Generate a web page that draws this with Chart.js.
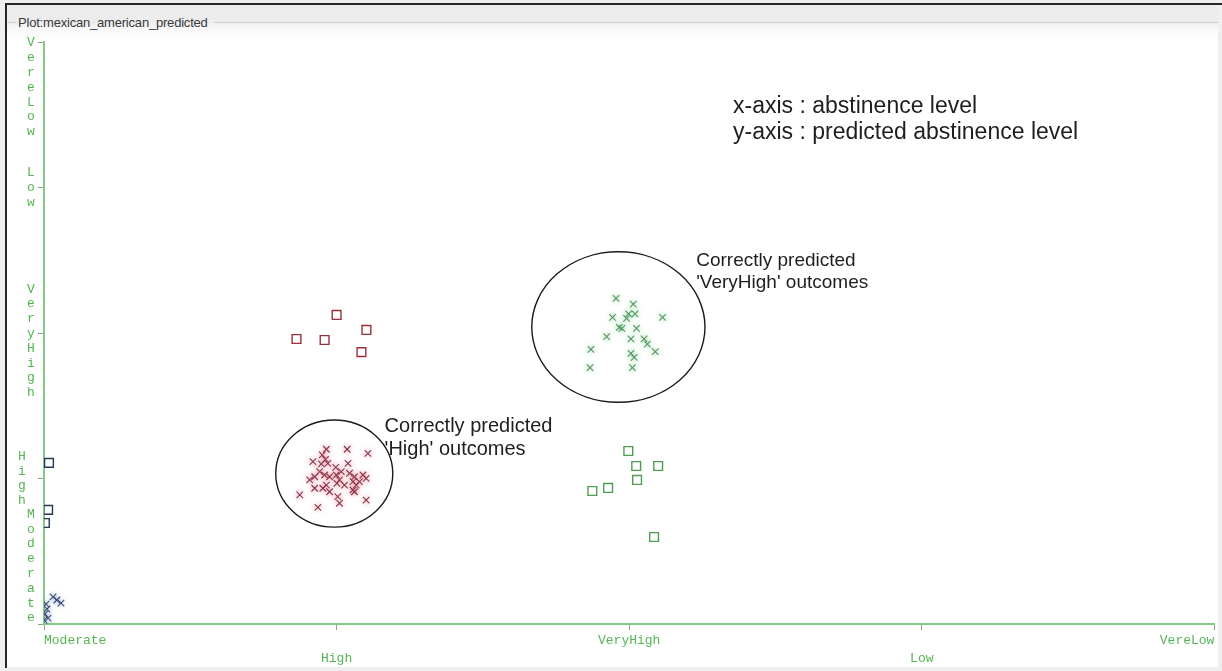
<!DOCTYPE html>
<html>
<head>
<meta charset="utf-8">
<script src="https://cdn.jsdelivr.net/npm/chart.js@4.4.1/dist/chart.umd.min.js"></script>
<style>
  html, body { margin: 0; padding: 0; width: 1222px; height: 671px; overflow: hidden; background: #efefef; }
  #sheet { position: absolute; left: 7px; top: 5px; width: 1211px; height: 662px; background: #fff; }
  #band { position: absolute; left: 7px; top: 5px; width: 1211px; height: 34px;
          background: linear-gradient(#ececec 0px, #ececec 17px, #f6f6f6 22px, #fff 34px); }
  #edgeTop { position: absolute; left: 5px; top: 3px; width: 1217px; height: 2px; background: #262626; }
  #edgeLeft { position: absolute; left: 5px; top: 3px; width: 2px; height: 665px; background: #262626; }
  .rule { position: absolute; top: 22px; height: 1px; background: #cfcfcf; }
  #title { position: absolute; left: 18px; top: 15px; font: 13px "Liberation Sans", Arial, sans-serif;
           color: #3a3a3a; white-space: nowrap; letter-spacing: -0.2px; }
  canvas { position: absolute; left: 0; top: 0; }
</style>
</head>
<body>
<div id="sheet"></div>
<div id="band"></div>
<div id="edgeTop"></div>
<div id="edgeLeft"></div>
<div class="rule" style="left:8px;width:8px"></div>
<div class="rule" style="left:214px;width:1004px"></div>
<div id="title">Plot:mexican_american_predicted</div>
<canvas id="plot" width="1222" height="671"></canvas>
<script>
// Abstinence levels, in axis order (x: actual level, y: predicted level)
const categories = ['Moderate', 'High', 'VeryHigh', 'Low', 'VereLow'];

// Moderate cases (jittered around their category index)
const moderateHitX  = [0.031, 0.044, 0.058, 0.007, 0.010, 0.003, 0.014, 0.000];
const moderateHitY  = [0.186, 0.165, 0.144, 0.137, 0.103, 0.069, 0.041, 0.027];
const moderateMissX = [0.017, 0.014, 0.003];
const moderateMissY = [1.107, 0.784, 0.694];

// High cases
const highHitX = [0.965, 1.036, 1.107, 0.951, 0.919, 0.962, 0.948, 0.970, 1.039, 0.997,
                  1.016, 0.942, 0.925, 0.908, 0.959, 0.976, 0.999, 1.010, 1.001, 1.044,
                  1.061, 1.090, 1.101, 1.056, 1.067, 1.056, 0.965, 0.925, 0.953, 0.976,
                  1.004, 0.874, 1.010, 0.936, 1.101, 1.061, 1.027, 1.078];
const highHitY = [1.201, 1.201, 1.173, 1.162, 1.116, 1.132, 1.100, 1.104, 1.104, 1.077,
                  1.047, 1.047, 1.012, 0.990, 1.024, 1.012, 1.024, 0.990, 0.967, 1.036,
                  1.012, 1.024, 1.001, 0.978, 0.955, 0.921, 0.955, 0.933, 0.933, 0.909,
                  0.875, 0.887, 0.830, 0.802, 0.852, 0.909, 0.955, 0.978];
const highMissX = [0.863, 0.959, 1.000, 1.102, 1.085];
const highMissY = [1.959, 1.952, 2.124, 2.021, 1.869];

// VeryHigh cases
const veryHighHitX = [1.955, 2.014, 1.943, 1.991, 2.020, 2.114, 1.975, 2.025, 1.923, 2.006,
                      2.051, 2.062, 2.089, 1.869, 2.006, 2.017, 1.866, 2.011, 1.966, 1.998];
const veryHighHitY = [2.238, 2.199, 2.108, 2.101, 2.131, 2.108, 2.032, 2.032, 1.975, 1.959,
                      1.959, 1.924, 1.872, 1.888, 1.860, 1.833, 1.762, 1.762, 2.039, 2.131];
const veryHighMissX = [1.997, 2.024, 2.099, 2.027, 1.874, 1.928, 2.085];
const veryHighMissY = [1.189, 1.086, 1.086, 0.990, 0.914, 0.935, 0.598];

const toPoints = (xs, ys) => xs.map((x, i) => ({ x, y: ys[i] }));

function hits(xs, ys, color, halo) {
  return { data: toPoints(xs, ys), pointStyle: 'crossRot', pointRadius: 4.6, pointBorderWidth: 1.1,
           borderColor: color, backgroundColor: color, showLine: false, halo };
}
function misses(xs, ys, color) {
  return { data: toPoints(xs, ys), pointStyle: 'rect', pointRadius: 6.2, pointBorderWidth: 1.4,
           borderColor: color, backgroundColor: 'rgba(0,0,0,0)', showLine: false, halo: null };
}

// soft coloured glow behind the crosses
const haloPlugin = {
  id: 'halo',
  beforeDatasetDraw(chart, args) {
    const ds = chart.data.datasets[args.index];
    chart.ctx.save();
    if (ds.halo) { chart.ctx.shadowColor = ds.halo; chart.ctx.shadowBlur = 5; }
  },
  afterDatasetDraw(chart) { chart.ctx.restore(); }
};

// category names: staggered along x, one letter per line along y
const axisLabelPlugin = {
  id: 'axisLabels',
  afterDraw(chart, args, o) {
    const { ctx, chartArea, scales: { x, y } } = chart;
    ctx.save();
    ctx.font = o.font;
    ctx.fillStyle = o.color;
    ctx.textBaseline = 'middle';
    const last = categories.length - 1;
    categories.forEach((name, i) => {
      const px = x.getPixelForValue(i);
      ctx.textAlign = i === 0 ? 'left' : (i === last ? 'right' : 'center');
      ctx.fillText(name, px, chartArea.bottom + o.xRows[i % 2]);

      const letters = name.split('');
      const n = letters.length;
      let start = y.getPixelForValue(i) - (n - 1) / 2 * o.letterGap + (o.yShift[name] || 0);
      start = Math.max(start, chartArea.top + 1);
      start = Math.min(start, chartArea.bottom - o.bottomGap - (n - 1) * o.letterGap);
      ctx.textAlign = 'center';
      const cx = o.column + (o.columnShift[name] || 0);
      letters.forEach((ch, k) => ctx.fillText(ch, cx, start + k * o.letterGap));
    });
    ctx.restore();
  }
};

// rings around the correctly predicted clusters, plus the notes
const notesPlugin = {
  id: 'notes',
  afterDraw(chart, args, o) {
    const { ctx, chartArea, scales: { x, y } } = chart;
    ctx.save();
    ctx.strokeStyle = '#1a1a1a';
    ctx.lineWidth = 1.4;
    o.rings.forEach(r => {
      const cx = x.getPixelForValue(r.x), cy = y.getPixelForValue(r.y);
      const rx = Math.abs(x.getPixelForValue(r.x + r.rx) - cx);
      const ry = Math.abs(y.getPixelForValue(r.y + r.ry) - cy);
      ctx.beginPath();
      ctx.ellipse(cx, cy, rx, ry, 0, 0, Math.PI * 2);
      ctx.stroke();
    });
    ctx.fillStyle = '#1e1e1e';
    ctx.textAlign = 'left';
    ctx.textBaseline = 'middle';
    o.notes.forEach(nt => {
      const px = x.getPixelForValue(nt.x), py = y.getPixelForValue(nt.y);
      ctx.font = nt.font;
      nt.lines.forEach((line, k) => ctx.fillText(line, px, py + k * nt.lead));
    });
    ctx.font = o.keyFont;
    o.key.forEach((line, k) => ctx.fillText(line, chartArea.left + o.keyX, chartArea.top + o.keyY + k * o.keyLead));
    ctx.restore();
  }
};

new Chart(document.getElementById('plot'), {
  type: 'scatter',
  data: {
    datasets: [
      hits(moderateHitX, moderateHitY, '#3d4d70', 'rgba(90,120,200,0.6)'),
      misses(moderateMissX, moderateMissY, '#27355a'),
      hits(highHitX, highHitY, '#8a3848', 'rgba(225,95,125,0.8)'),
      misses(highMissX, highMissY, '#98303a'),
      hits(veryHighHitX, veryHighHitY, '#5d8f68', 'rgba(90,215,110,0.85)'),
      misses(veryHighMissX, veryHighMissY, '#4d9d52')
    ]
  },
  options: {
    responsive: false,
    animation: false,
    events: [],
    layout: { padding: { left: 0, right: 6, top: 42, bottom: 0 } },
    plugins: {
      legend: { display: false },
      tooltip: { enabled: false },
      axisLabels: {
        font: '13px "Liberation Mono", "DejaVu Sans Mono", monospace',
        color: '#55b455',
        xRows: [17, 35],
        letterGap: 14.8,
        bottomGap: 6,
        column: 31,
        yShift: { VeryHigh: 8 },
        columnShift: { High: -9 }
      },
      notes: {
        rings: [
          { x: 0.992, y: 1.034, rx: 0.200, ry: 0.368 },
          { x: 1.963, y: 2.041, rx: 0.296, ry: 0.517 }
        ],
        notes: [
          { x: 1.164, y: 1.360, lead: 23, font: '20px "Liberation Sans", Arial, sans-serif',
            lines: ['Correctly predicted', "'High' outcomes"] },
          { x: 2.229, y: 2.495, lead: 21.5, font: '19px "Liberation Sans", Arial, sans-serif',
            lines: ['Correctly predicted', "'VeryHigh' outcomes"] }
        ],
        key: ['x-axis : abstinence level', 'y-axis : predicted abstinence level'],
        keyFont: '23px "Liberation Sans", Arial, sans-serif',
        keyX: 689, keyY: 65, keyLead: 26
      }
    },
    scales: {
      x: {
        type: 'linear', min: 0, max: 4,
        ticks: { display: false, stepSize: 1 },
        grid: { drawOnChartArea: false, drawTicks: true, tickLength: 6, color: '#8aa58a', lineWidth: 1 },
        border: { color: '#86c886', width: 2 },
        afterFit: s => { s.height = 47; }
      },
      y: {
        type: 'linear', min: 0, max: 4,
        ticks: { display: false, stepSize: 1 },
        grid: { drawOnChartArea: false, drawTicks: true, tickLength: 6, color: '#8aa58a', lineWidth: 1 },
        border: { color: '#86c886', width: 2 },
        afterFit: s => { s.width = 44; }
      }
    }
  },
  plugins: [haloPlugin, axisLabelPlugin, notesPlugin]
});
</script>
</body>
</html>
